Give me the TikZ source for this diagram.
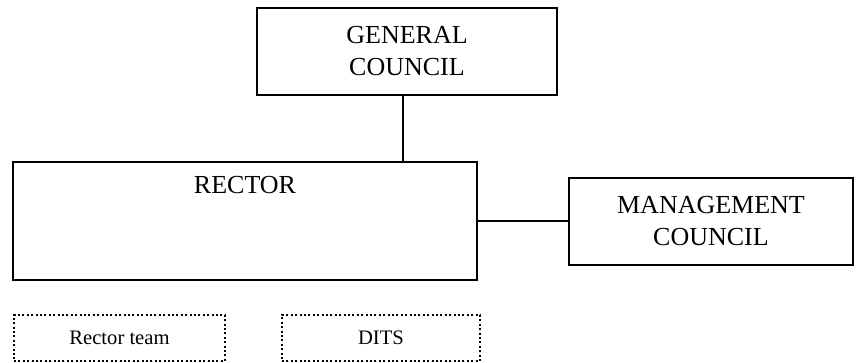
\documentclass[tikz,border=0pt]{standalone}
\usepackage{fontspec}
\setmainfont{Liberation Serif}
\usetikzlibrary{positioning}
\tikzset{
  unitbox/.style={draw, line width=1pt, align=center, inner sep=0pt, font=\fontsize{13}{16}\selectfont},
  staffbox/.style={draw, line width=1pt, dash pattern=on 1pt off 1.2pt, inner sep=0pt, font=\fontsize{10.3}{12}\selectfont},
}
\begin{document}
\begin{tikzpicture}[x=0.5pt, y=-0.5pt]
  \useasboundingbox (0,0) rectangle (857,363);

  % councils and rector
  \node[unitbox, minimum width=150pt, minimum height=43.5pt] (general) at (407,51.5) {GENERAL\\COUNCIL};
  \node[unitbox, minimum width=232pt, minimum height=59pt] (rector) at (245,221) {};
  \node[inner sep=0pt, below=7.5pt of rector.north, font=\fontsize{13}{16}\selectfont] (rectorlbl) {RECTOR};
  \node[unitbox, minimum width=142pt, minimum height=43.5pt] (management) at (711,221.5) {MANAGEMENT\\COUNCIL};

  % support units
  \node[staffbox, minimum width=105.5pt, minimum height=23pt] (team) at (119.5,338) {Rector team};
  \node[staffbox, minimum width=99pt, minimum height=23pt] (dits) at (381,338) {DITS};

  % links
  \draw[line width=1pt] ([xshift=-2pt]general.south) -- ([xshift=-2pt]general.south |- rector.north);
  \draw[line width=1pt] (management.west -| rector.east) -- (management.west);
\end{tikzpicture}
\end{document}
